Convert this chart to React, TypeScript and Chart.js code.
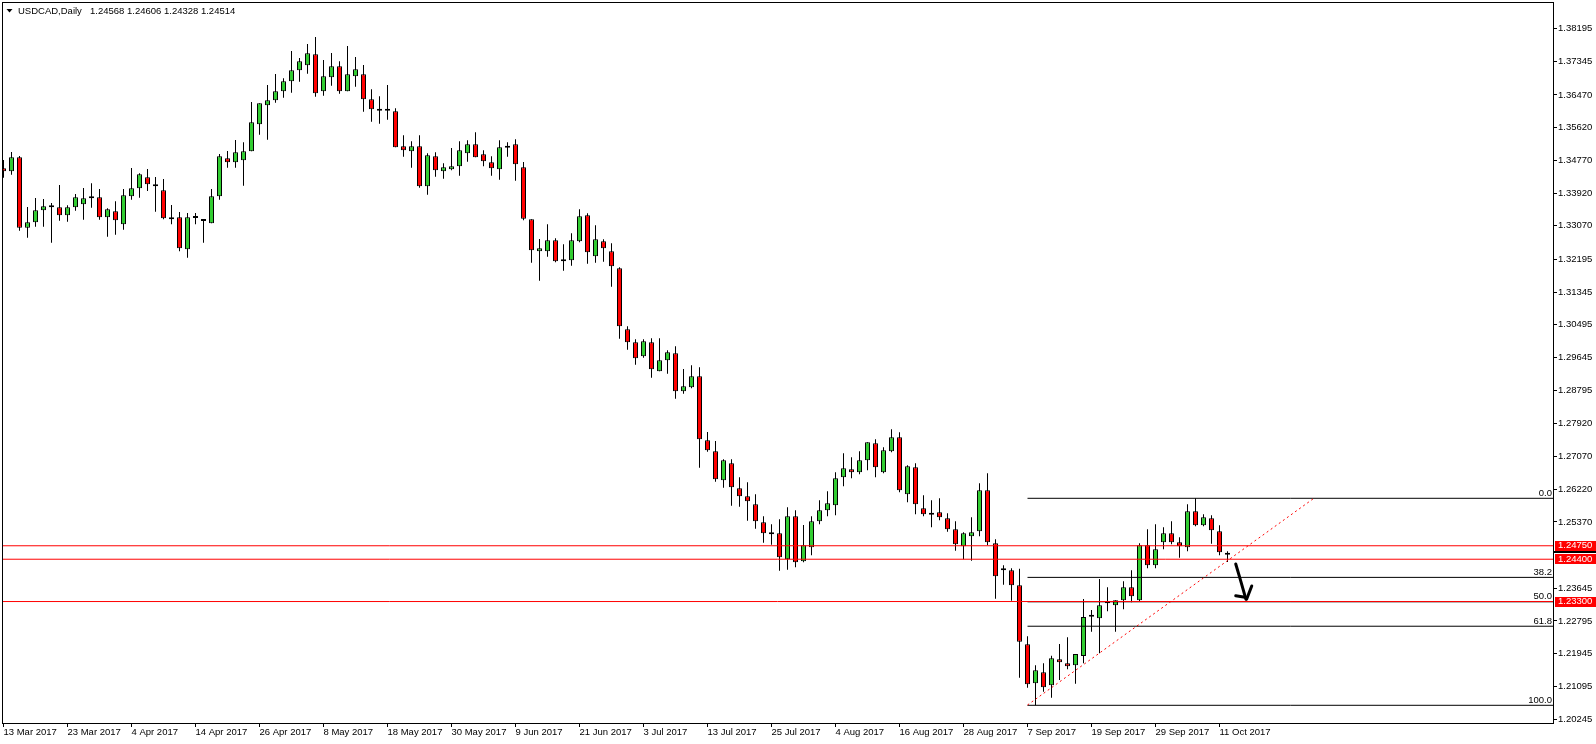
import React, { useEffect, useRef } from "react";
import { Chart, registerables } from "chart.js";

Chart.register(...registerables);

// ---- Daily USDCAD candles, 13 Mar 2017 (index 0) .. 12 Oct 2017 (index 153) ----
const OPEN = [
  1.34564, 1.34486, 1.3485, 1.3302, 1.3316, 1.33472, 1.3355, 1.3355, 1.33342, 1.3355,
  1.33628, 1.33784, 1.3381, 1.3329, 1.33446, 1.33108, 1.33836, 1.34044, 1.3433, 1.34148,
  1.33992, 1.33238, 1.3329, 1.32458, 1.33272, 1.33194, 1.33134, 1.33836, 1.34824, 1.3472,
  1.34772, 1.35006, 1.35708, 1.36202, 1.36332, 1.36566, 1.36826, 1.37112, 1.37242, 1.37528,
  1.36566, 1.3693, 1.37216, 1.36566, 1.36956, 1.37008, 1.36358, 1.36062, 1.36062, 1.36046,
  1.35136, 1.35006, 1.35136, 1.34096, 1.34876, 1.34486, 1.34538, 1.34616, 1.34954, 1.35188,
  1.34928, 1.3472, 1.34538, 1.351, 1.35188, 1.3459, 1.33238, 1.32406, 1.32406, 1.32692,
  1.32146, 1.32172, 1.32666, 1.33342, 1.32276, 1.32666, 1.32406, 1.31964, 1.30378, 1.3004,
  1.29676, 1.3004, 1.29286, 1.29572, 1.29754, 1.28766, 1.2887, 1.29156, 1.27492, 1.27206,
  1.26452, 1.26894, 1.26244, 1.26036, 1.25828, 1.2536, 1.25048, 1.25074, 1.24398, 1.25516,
  1.24346, 1.2471, 1.25386, 1.25672, 1.25802, 1.2653, 1.26738, 1.2666, 1.26972, 1.27414,
  1.2666, 1.27206, 1.2757, 1.26088, 1.2679, 1.25724, 1.25558, 1.2562, 1.25464, 1.25178,
  1.24736, 1.24996, 1.25126, 1.26192, 1.24814, 1.24164, 1.24112, 1.23722, 1.22188, 1.21174,
  1.2146, 1.21122, 1.21798, 1.21694, 1.21642, 1.21884, 1.22906, 1.22864, 1.23254, 1.23202,
  1.23332, 1.2367, 1.23332, 1.24762, 1.24242, 1.2484, 1.25074, 1.2484, 1.2471, 1.25646,
  1.25282, 1.25464, 1.25126, 1.24568,
];
const HIGH = [
  1.3478, 1.34988, 1.34884, 1.33558, 1.33792, 1.33766, 1.33662, 1.3413, 1.33602, 1.33896,
  1.34052, 1.34174, 1.34026, 1.33524, 1.33706, 1.34026, 1.34572, 1.34434, 1.34546, 1.34338,
  1.34286, 1.3361, 1.33428, 1.33402, 1.33402, 1.33238, 1.34026, 1.34936, 1.35014, 1.353,
  1.3524, 1.36288, 1.36254, 1.3673, 1.37016, 1.36904, 1.37614, 1.37432, 1.37796, 1.37978,
  1.3738, 1.37562, 1.37346, 1.37744, 1.37458, 1.3725, 1.36618, 1.36436, 1.3673, 1.36124,
  1.35422, 1.35266, 1.35422, 1.34954, 1.3498, 1.34694, 1.35092, 1.35266, 1.35292, 1.355,
  1.35032, 1.34876, 1.35292, 1.3524, 1.35318, 1.34728, 1.33238, 1.32726, 1.33108, 1.32744,
  1.32588, 1.32874, 1.33498, 1.33394, 1.33082, 1.32718, 1.32614, 1.3199, 1.30456, 1.30118,
  1.30118, 1.30144, 1.30144, 1.29832, 1.29936, 1.29346, 1.29442, 1.2939, 1.27708, 1.27474,
  1.26998, 1.26998, 1.2653, 1.264, 1.26088, 1.25516, 1.25308, 1.25438, 1.2575, 1.25672,
  1.2529, 1.25516, 1.25932, 1.26166, 1.2666, 1.27154, 1.2705, 1.27206, 1.2744, 1.27518,
  1.2731, 1.27778, 1.277, 1.26842, 1.26894, 1.26062, 1.25932, 1.25984, 1.25594, 1.25386,
  1.251, 1.2549, 1.26374, 1.26634, 1.24918, 1.24242, 1.24164, 1.24154, 1.22396, 1.21642,
  1.21694, 1.21892, 1.22196, 1.2237, 1.21936, 1.23366, 1.2308, 1.23886, 1.2367, 1.23332,
  1.23826, 1.24112, 1.24814, 1.25178, 1.25308, 1.2523, 1.25386, 1.2497, 1.25828, 1.25984,
  1.25568, 1.25542, 1.25282, 1.24606,
];
const LOW = [
  1.3432, 1.34398, 1.32942, 1.3276, 1.33046, 1.33046, 1.3263, 1.33202, 1.33176, 1.33462,
  1.33228, 1.3354, 1.33228, 1.32786, 1.32838, 1.32968, 1.33748, 1.338, 1.33974, 1.33436,
  1.33238, 1.33108, 1.32406, 1.3224, 1.33108, 1.3263, 1.33134, 1.33748, 1.3458, 1.3458,
  1.34112, 1.35006, 1.35438, 1.35308, 1.3627, 1.364, 1.3653, 1.36816, 1.37024, 1.36426,
  1.36452, 1.36712, 1.36504, 1.36566, 1.36686, 1.36036, 1.35776, 1.35724, 1.35828, 1.3511,
  1.34866, 1.3458, 1.3406, 1.33878, 1.34346, 1.34294, 1.34512, 1.34372, 1.34736, 1.3485,
  1.34616, 1.34372, 1.34268, 1.34866, 1.34242, 1.33212, 1.3211, 1.31642, 1.32266, 1.3212,
  1.31902, 1.32032, 1.3264, 1.32084, 1.3211, 1.32136, 1.31486, 1.30134, 1.29848, 1.29458,
  1.2964, 1.2912, 1.29286, 1.29224, 1.28574, 1.28704, 1.28844, 1.2678, 1.27196, 1.26416,
  1.2626, 1.25792, 1.25766, 1.25402, 1.25194, 1.2483, 1.24778, 1.24102, 1.24128, 1.2419,
  1.2432, 1.24502, 1.25308, 1.25516, 1.25542, 1.26296, 1.26504, 1.26608, 1.26712, 1.2653,
  1.26634, 1.2718, 1.2614, 1.2588, 1.25568, 1.25516, 1.2523, 1.25412, 1.25116, 1.24622,
  1.24398, 1.24362, 1.24996, 1.24762, 1.23374, 1.23738, 1.23322, 1.2132, 1.2106, 1.20602,
  1.20956, 1.208, 1.2126, 1.21538, 1.21164, 1.21694, 1.22516, 1.21954, 1.23046, 1.22516,
  1.23098, 1.2328, 1.23306, 1.24164, 1.24164, 1.24658, 1.24788, 1.2444, 1.24606, 1.25256,
  1.25256, 1.24804, 1.24502, 1.24328,
];
const CLOSE = [
  1.34486, 1.3485, 1.3302, 1.3316, 1.33472, 1.33576, 1.3355, 1.33342, 1.3355, 1.3381,
  1.33784, 1.33836, 1.3329, 1.33498, 1.33212, 1.33862, 1.34044, 1.34408, 1.34148, 1.34096,
  1.33264, 1.3329, 1.32484, 1.3329, 1.33272, 1.33194, 1.33836, 1.34876, 1.3472, 1.3498,
  1.35006, 1.3576, 1.36254, 1.36332, 1.36566, 1.36826, 1.37112, 1.37346, 1.37554, 1.36514,
  1.36956, 1.37216, 1.36566, 1.37008, 1.37138, 1.36358, 1.36098, 1.36062, 1.36062, 1.3511,
  1.35032, 1.35136, 1.34096, 1.34902, 1.34512, 1.3459, 1.34616, 1.35032, 1.35188, 1.3485,
  1.34746, 1.34564, 1.3511, 1.351, 1.34668, 1.33254, 1.32432, 1.32484, 1.32692, 1.32146,
  1.32198, 1.32692, 1.33316, 1.3238, 1.32718, 1.32484, 1.32016, 1.30456, 1.3004, 1.29624,
  1.30066, 1.29338, 1.29572, 1.2978, 1.28766, 1.28896, 1.29156, 1.27518, 1.27232, 1.26478,
  1.26972, 1.2627, 1.26036, 1.25906, 1.25386, 1.25074, 1.25048, 1.2445, 1.25516, 1.2432,
  1.24762, 1.25386, 1.25672, 1.25854, 1.26504, 1.26764, 1.2666, 1.26972, 1.2744, 1.2679,
  1.27232, 1.2757, 1.26192, 1.26816, 1.25828, 1.25568, 1.25558, 1.2549, 1.25178, 1.24788,
  1.25074, 1.251, 1.26192, 1.2484, 1.23956, 1.24112, 1.23722, 1.22256, 1.21148, 1.21512,
  1.2107, 1.21824, 1.2172, 1.21616, 1.21936, 1.22898, 1.22906, 1.23202, 1.23254, 1.23332,
  1.2367, 1.23436, 1.24762, 1.24242, 1.24658, 1.25074, 1.2484, 1.24736, 1.25646, 1.25282,
  1.2549, 1.25152, 1.2458, 1.24514,
];

// ---- axes ----
const X_TICK_INDEX = [0, 8, 16, 24, 32, 40, 48, 56, 64, 72, 80, 88, 96, 104, 112, 120, 128, 136, 144, 152];
const X_TICK_LABELS = [
  "13 Mar 2017", "23 Mar 2017", "4 Apr 2017", "14 Apr 2017", "26 Apr 2017", "8 May 2017",
  "18 May 2017", "30 May 2017", "9 Jun 2017", "21 Jun 2017", "3 Jul 2017", "13 Jul 2017",
  "25 Jul 2017", "4 Aug 2017", "16 Aug 2017", "28 Aug 2017", "7 Sep 2017", "19 Sep 2017",
  "29 Sep 2017", "11 Oct 2017",
];
const Y_TICKS = [
  1.38195, 1.37345, 1.3647, 1.3562, 1.3477, 1.3392, 1.3307, 1.32195, 1.31345, 1.30495,
  1.29645, 1.28795, 1.2792, 1.2707, 1.2622, 1.2537, 1.23645, 1.22795, 1.21945, 1.21095, 1.20245,
];
const X_MIN = -0.1875;
const X_MAX = 193.6875;
const Y_MIN = 1.20142;
const Y_MAX = 1.38888;

// ---- drawn objects ----
const HLINE_PRICES = [1.2475, 1.244, 1.233];
const HLINE_LABELS = ["1.24750", "1.24400", "1.23300"];
const FIB_START = 128;
const FIB_LABELS = ["0.0", "38.2", "50.0", "61.8", "100.0"];
const FIB_PRICES = [1.25984, 1.23928, 1.23293, 1.22658, 1.20602];
const TREND_X = [128, 163.7];
const TREND_Y = [1.2061, 1.2597];
const ARROW_MAIN_X = [154.03, 154.56, 155.31];
const ARROW_MAIN_Y = [1.24276, 1.23904, 1.23358];
const ARROW_LEFT_X = [154.03, 155.19];
const ARROW_LEFT_Y = [1.23452, 1.2341];
const ARROW_RIGHT_X = [155.4, 156.03];
const ARROW_RIGHT_Y = [1.23366, 1.23704];
const BID_MARK = 1.2459;

const HEADER_SYMBOL = "USDCAD,Daily";
const HEADER_OHLC = "1.24568 1.24606 1.24328 1.24514";

const BULL = "#32CD32";
const BEAR = "#FF0000";
const FONT_FAMILY = '"Liberation Sans", Arial, sans-serif';
const FONT_SIZE = 9.5;

const pts = (xs: number[], ys: number[]) => xs.map((x, i) => ({ x, y: ys[i] }));

export default function App() {
  const ref = useRef<HTMLCanvasElement>(null);

  useEffect(() => {
    document.body.style.margin = "0";
    const canvas = ref.current!;
    const idx = OPEN.map((_, i) => i);
    const bodies = idx.map((i) => ({ x: i, y: [Math.min(OPEN[i], CLOSE[i]), Math.max(OPEN[i], CLOSE[i])] }));
    const wicks = idx.map((i) => ({ x: i, y: [LOW[i], HIGH[i]] }));
    const bodyColors = idx.map((i) => (CLOSE[i] > OPEN[i] ? BULL : CLOSE[i] < OPEN[i] ? BEAR : "#000"));

    const lineBase = { type: "line" as const, pointRadius: 0, borderWidth: 1, fill: false, tension: 0 };
    const datasets: any[] = [];
    // arrow (top-most)
    [pts(ARROW_MAIN_X, ARROW_MAIN_Y), pts(ARROW_LEFT_X, ARROW_LEFT_Y), pts(ARROW_RIGHT_X, ARROW_RIGHT_Y)].forEach((d) =>
      datasets.push({ ...lineBase, data: d, borderColor: "#000", borderWidth: 3, borderCapStyle: "round", borderJoinStyle: "round", order: 0 })
    );
    datasets.push({ ...lineBase, data: pts(TREND_X, TREND_Y), borderColor: "#FF0000", borderDash: [2, 3], order: 1 });
    HLINE_PRICES.forEach((p) =>
      datasets.push({ ...lineBase, data: [{ x: X_MIN, y: p }, { x: X_MAX, y: p }], borderColor: "#FF0000", order: 2 })
    );
    FIB_PRICES.forEach((p) =>
      datasets.push({ ...lineBase, data: [{ x: FIB_START, y: p }, { x: X_MAX, y: p }], borderColor: "#000", order: 2 })
    );
    datasets.push({
      type: "bar", data: bodies, backgroundColor: bodyColors, borderColor: "#000", borderWidth: 1,
      borderSkipped: false, barThickness: 5, grouped: false, minBarLength: 2, inflateAmount: 0, order: 3,
    });
    datasets.push({
      type: "bar", data: wicks, backgroundColor: "#000", borderWidth: 0, barThickness: 1,
      grouped: false, inflateAmount: 0, order: 4,
    });

    const overlay = {
      id: "mt4overlay",
      afterDraw(chart: any) {
        const { ctx, chartArea: a, scales } = chart;
        const y = scales.y;
        const W = chart.width;
        ctx.save();
        // frame
        ctx.strokeStyle = "#000";
        ctx.lineWidth = 1;
        ctx.strokeRect(a.left + 0.5, a.top + 0.5, a.right - a.left, a.bottom - a.top);
        // fib labels
        ctx.font = `${FONT_SIZE}px ${FONT_FAMILY}`;
        ctx.fillStyle = "#000";
        ctx.textAlign = "right";
        ctx.textBaseline = "bottom";
        FIB_PRICES.forEach((p, i) => ctx.fillText(FIB_LABELS[i], a.right - 1, y.getPixelForValue(p) - 0.5));
        // bid marker
        ctx.fillStyle = "#000";
        ctx.fillRect(a.right, Math.round(y.getPixelForValue(BID_MARK)) - 1, W - a.right, 2);
        // price labels for horizontal lines
        ctx.textAlign = "left";
        ctx.textBaseline = "middle";
        HLINE_PRICES.forEach((p, i) => {
          const py = y.getPixelForValue(p);
          ctx.fillStyle = "#FF0000";
          ctx.fillRect(a.right + 2, Math.round(py) - 5, W - a.right - 2, 10);
          ctx.fillStyle = "#FFFFFF";
          ctx.fillText(HLINE_LABELS[i], a.right + 5, py);
        });
        // header
        ctx.fillStyle = "#000";
        ctx.beginPath();
        ctx.moveTo(6.5, 9);
        ctx.lineTo(12.5, 9);
        ctx.lineTo(9.5, 12.5);
        ctx.closePath();
        ctx.fill();
        ctx.textBaseline = "middle";
        ctx.fillText(HEADER_SYMBOL, 18, 11);
        ctx.fillText(HEADER_OHLC, 90, 11);
        ctx.restore();
      },
    };

    const chart = new Chart(canvas, {
      type: "bar",
      data: { datasets },
      options: {
        responsive: false,
        animation: false,
        devicePixelRatio: 1,
        events: [],
        layout: { padding: { left: 2, top: 2, right: 0, bottom: 0 }, autoPadding: false } as any,
        plugins: { legend: { display: false }, tooltip: { enabled: false }, title: { display: false } },
        scales: {
          x: {
            type: "linear",
            min: X_MIN,
            max: X_MAX,
            offset: false,
            afterBuildTicks: (s: any) => {
              s.ticks = X_TICK_INDEX.map((v) => ({ value: v }));
            },
            afterFit: (s: any) => {
              s.height = 21;
              s.paddingLeft = 0;
              s.paddingRight = 0;
              s.paddingTop = 0;
              s.paddingBottom = 0;
            },
            grid: { offset: false, drawOnChartArea: false, drawTicks: true, tickLength: 4, color: "#000", tickColor: "#000" },
            border: { display: false },
            ticks: {
              autoSkip: false,
              maxRotation: 0,
              minRotation: 0,
              align: "start",
              padding: 0,
              color: "#000",
              font: { family: FONT_FAMILY, size: FONT_SIZE },
              callback: (_v: any, i: number) => X_TICK_LABELS[i],
            },
          },
          y: {
            type: "linear",
            position: "right",
            min: Y_MIN,
            max: Y_MAX,
            beginAtZero: false,
            afterBuildTicks: (s: any) => {
              s.ticks = Y_TICKS.map((v) => ({ value: v }));
            },
            afterFit: (s: any) => {
              s.width = 43;
              s.paddingLeft = 0;
              s.paddingRight = 0;
              s.paddingTop = 0;
              s.paddingBottom = 0;
            },
            grid: { drawOnChartArea: false, drawTicks: true, tickLength: 4, color: "#000", tickColor: "#000" },
            border: { display: false },
            ticks: {
              autoSkip: false,
              padding: 1,
              color: "#000",
              font: { family: FONT_FAMILY, size: FONT_SIZE },
              callback: (v: any) => Number(v).toFixed(5),
            },
          },
        },
      } as any,
      plugins: [overlay],
    });
    return () => chart.destroy();
  }, []);

  return (
    <div style={{ position: "fixed", left: 0, top: 0, width: 1596, height: 744, background: "#fff" }}>
      <canvas ref={ref} width={1596} height={744} style={{ display: "block", width: 1596, height: 744 }} />
    </div>
  );
}
